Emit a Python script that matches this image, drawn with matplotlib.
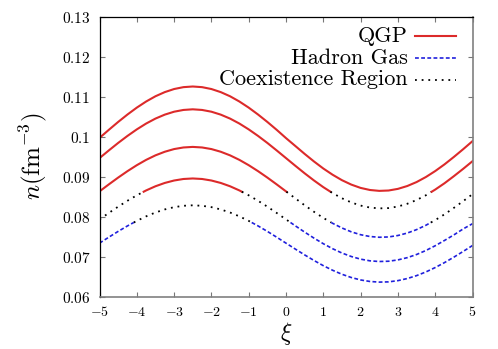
import matplotlib
matplotlib.use("Agg")
import matplotlib.pyplot as plt

plt.rcParams['mathtext.fontset'] = 'cm'

# ---------------- data ----------------
xi = [-5.0, -4.75, -4.5, -4.25, -4.0, -3.75, -3.5, -3.25, -3.0, -2.75, -2.5,
      -2.25, -2.0, -1.75, -1.5, -1.25, -1.0, -0.75, -0.5, -0.25, 0.0,
      0.25, 0.5, 0.75, 1.0, 1.25, 1.5, 1.75, 2.0, 2.25, 2.5,
      2.75, 3.0, 3.25, 3.5, 3.75, 4.0, 4.25, 4.5, 4.75, 5.0]

n_curve1 = [0.09965, 0.10167, 0.10364, 0.10550, 0.10722, 0.10875, 0.11006,
            0.11110, 0.11187, 0.11234, 0.11250, 0.11234, 0.11187, 0.11110,
            0.11006, 0.10875, 0.10722, 0.10550, 0.10364, 0.10167, 0.09960,
            0.09763, 0.09565, 0.09376, 0.09200, 0.09044, 0.08908, 0.08798,
            0.08715, 0.08663, 0.08641, 0.08650, 0.08691, 0.08762, 0.08861,
            0.08987, 0.09136, 0.09304, 0.09489, 0.09683, 0.09884]
n_curve2 = [0.09460, 0.09652, 0.09839, 0.10015, 0.10178, 0.10324, 0.10448,
            0.10547, 0.10620, 0.10664, 0.10680, 0.10664, 0.10620, 0.10547,
            0.10448, 0.10324, 0.10178, 0.10015, 0.09839, 0.09652, 0.09460,
            0.09268, 0.09080, 0.08901, 0.08734, 0.08585, 0.08456, 0.08352,
            0.08273, 0.08224, 0.08203, 0.08211, 0.08250, 0.08318, 0.08412,
            0.08531, 0.08673, 0.08832, 0.09008, 0.09192, 0.09383]
n_curve3 = [0.08628, 0.08803, 0.08973, 0.09134, 0.09283, 0.09416, 0.09529,
            0.09619, 0.09686, 0.09726, 0.09740, 0.09726, 0.09686, 0.09619,
            0.09529, 0.09416, 0.09283, 0.09134, 0.08973, 0.08803, 0.08628,
            0.08453, 0.08281, 0.08118, 0.07965, 0.07830, 0.07713, 0.07617,
            0.07545, 0.07500, 0.07481, 0.07489, 0.07525, 0.07586, 0.07672,
            0.07781, 0.07910, 0.08055, 0.08216, 0.08384, 0.08558]
n_curve4 = [0.07928, 0.08089, 0.08246, 0.08394, 0.08530, 0.08652, 0.08756,
            0.08839, 0.08900, 0.08938, 0.08951, 0.08938, 0.08900, 0.08839,
            0.08756, 0.08652, 0.08530, 0.08394, 0.08246, 0.08089, 0.07928,
            0.07767, 0.07610, 0.07460, 0.07320, 0.07195, 0.07087, 0.07000,
            0.06934, 0.06892, 0.06875, 0.06882, 0.06915, 0.06971, 0.07050,
            0.07150, 0.07269, 0.07402, 0.07540, 0.07690, 0.07820]
n_curve5 = [0.07334, 0.07483, 0.07628, 0.07765, 0.07891, 0.08004, 0.08100,
            0.08177, 0.08234, 0.08268, 0.08280, 0.08268, 0.08234, 0.08177,
            0.08100, 0.08004, 0.07891, 0.07765, 0.07628, 0.07483, 0.07334,
            0.07186, 0.07040, 0.06901, 0.06771, 0.06656, 0.06556, 0.06475,
            0.06414, 0.06376, 0.06360, 0.06366, 0.06397, 0.06449, 0.06522,
            0.06614, 0.06724, 0.06848, 0.06984, 0.07127, 0.07275]

# phase boundaries (densities)
N_QGP = 0.0862
N_HAD = 0.0785

phase_labels = ['QGP', 'Hadron Gas', 'Coexistence Region']

x_ticks = [-5, -4, -3, -2, -1, 0, 1, 2, 3, 4, 5]
x_tick_labels = ['$-5$', '$-4$', '$-3$', '$-2$', '$-1$', '$0$', '$1$', '$2$',
                 '$3$', '$4$', '$5$']
y_ticks = [0.06, 0.07, 0.08, 0.09, 0.10, 0.11, 0.12, 0.13]
y_tick_labels = ['$0.06$', '$0.07$', '$0.08$', '$0.09$', '$0.1$', '$0.11$',
                 '$0.12$', '$0.13$']

# ---------------- helpers ----------------
def phase_of(v):
    if v >= N_QGP:
        return 'Q'
    if v <= N_HAD:
        return 'H'
    return 'C'


def split_curve(x, y):
    """Split one polyline into runs of constant phase (cut at boundaries)."""
    runs = []
    cx, cy = [x[0]], [y[0]]
    cp = phase_of(y[0])
    for i in range(1, len(x)):
        x0, y0, x1, y1 = x[i - 1], y[i - 1], x[i], y[i]
        cuts = []
        for t in (N_QGP, N_HAD):
            if (y0 - t) * (y1 - t) < 0:
                cuts.append(((t - y0) / (y1 - y0), t))
        cuts.sort()
        rising = y1 > y0
        for f, t in cuts:
            xc = x0 + f * (x1 - x0)
            cx.append(xc)
            cy.append(t)
            runs.append((cp, cx, cy))
            if t == N_QGP:
                cp = 'Q' if rising else 'C'
            else:
                cp = 'C' if rising else 'H'
            cx, cy = [xc], [t]
        cx.append(x1)
        cy.append(y1)
    runs.append((cp, cx, cy))
    return runs


styles = {
    'Q': dict(color='#dc2a2a', lw=1.5, linestyle='-'),
    'H': dict(color='#2020dd', lw=1.2, linestyle=(0, (2.3, 1.4))),
    'C': dict(color='black', lw=1.3, linestyle=(0, (1.0, 2.7))),
}

# ---------------- figure ----------------
fig = plt.figure(figsize=(4.98, 3.49), dpi=100)
ax = fig.add_axes([0.1998, 0.1504, 0.749, 0.8023])

for curve in (n_curve1, n_curve2, n_curve3, n_curve4, n_curve5):
    for p, rx, ry in split_curve(xi, curve):
        ax.plot(rx, ry, **styles[p])

ax.set_xlim(-5, 5)
ax.set_ylim(0.06, 0.13)
ax.set_xticks(x_ticks)
ax.set_xticklabels(x_tick_labels)
ax.set_yticks(y_ticks)
ax.set_yticklabels(y_tick_labels)
ax.tick_params(direction='in', length=3.6, width=0.8, color='#777777',
               top=True, right=True, labelsize=10, pad=6)
ax.tick_params(axis='y', labelsize=11, pad=6.5)

for side in ('left', 'top'):
    ax.spines[side].set_color('black')
    ax.spines[side].set_linewidth(0.9)
for side in ('bottom', 'right'):
    ax.spines[side].set_color('#808080')
    ax.spines[side].set_linewidth(1.2)

ax.set_xlabel(r'$\xi$', fontsize=17, labelpad=1)
ax.set_ylabel(r'$n(\mathrm{fm}^{-3})$', fontsize=18)
ax.yaxis.set_label_coords(-0.135, 0.5)

# legend (text right-aligned, line sample to its right, as in gnuplot)
text_right = 0.827
handle_x = (0.8458, 0.9558)
baselines = [0.909, 0.832, 0.754]
handle_y = [0.932, 0.851, 0.773]
for key, label, yb, yh in zip(('Q', 'H', 'C'), phase_labels, baselines, handle_y):
    ax.text(text_right, yb, label, transform=ax.transAxes, ha='right',
            va='baseline', family='cmr10', fontsize=16)
    ax.plot(handle_x, (yh, yh), transform=ax.transAxes, clip_on=False,
            **styles[key])

fig.savefig('out.png', dpi=100)
